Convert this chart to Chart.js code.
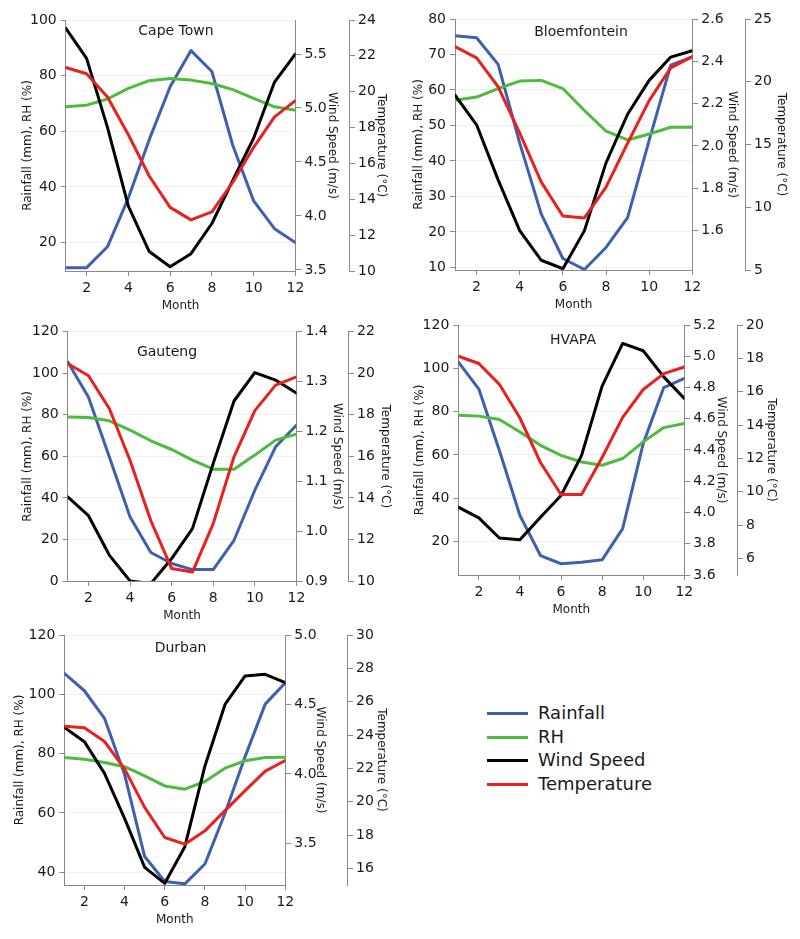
<!DOCTYPE html>
<html>
<head>
<meta charset="utf-8">
<script src="https://cdn.jsdelivr.net/npm/chart.js@4/dist/chart.umd.min.js"></script>
<style>
  html, body { margin: 0; padding: 0; background: #fff; }
  body { width: 800px; height: 939px; position: relative; overflow: hidden; font-family: "DejaVu Sans", sans-serif; }
  canvas { position: absolute; }
  .lg-line { position: absolute; left: 487px; width: 41px; height: 3px; }
  .lg-text { position: absolute; left: 538px; font-size: 18px; line-height: 20px; color: #1a1a1a; white-space: nowrap; }
</style>
</head>
<body>
<canvas id="c1"></canvas>
<canvas id="c2"></canvas>
<canvas id="c3"></canvas>
<canvas id="c4"></canvas>
<canvas id="c5"></canvas>

<div class="lg-line" style="top:712px;background:#3f5fb0"></div><div class="lg-text" style="top:703px">Rainfall</div>
<div class="lg-line" style="top:736px;background:#4cbc3c"></div><div class="lg-text" style="top:727px">RH</div>
<div class="lg-line" style="top:759px;background:#000000"></div><div class="lg-text" style="top:750px">Wind Speed</div>
<div class="lg-line" style="top:783px;background:#e8201f"></div><div class="lg-text" style="top:774px">Temperature</div>

<script>
// ---------- data ----------
const months = [1, 2, 3, 4, 5, 6, 7, 8, 9, 10, 11, 12];
const monthTicks = [2, 4, 6, 8, 10, 12];

const capeTownRainfall = [11, 11, 18.5, 36, 57, 76, 89, 81.5, 55, 35, 25, 20];
const capeTownRH       = [68.8, 69.4, 71.6, 75.4, 78.2, 79, 78.4, 77.2, 75, 71.8, 68.8, 67.6];
const capeTownWind     = [5.74, 5.46, 4.82, 4.09, 3.67, 3.53, 3.65, 3.93, 4.33, 4.72, 5.24, 5.5];
const capeTownTemp     = [21.35, 21.0, 19.7, 17.6, 15.3, 13.55, 12.85, 13.3, 14.95, 16.9, 18.6, 19.5];

const bloemRainfall = [75.3, 74.7, 67.2, 45, 25, 12.5, 9.4, 15.6, 24, 45.8, 67, 69.3];
const bloemRH       = [57.1, 58, 60.4, 62.5, 62.7, 60.4, 54.2, 48.4, 45.9, 47.6, 49.5, 49.5];
const bloemWind     = [2.24, 2.10, 1.84, 1.60, 1.46, 1.42, 1.60, 1.92, 2.15, 2.31, 2.42, 2.45];
const bloemTemp     = [22.8, 21.9, 19.6, 15.9, 12.0, 9.3, 9.15, 11.6, 15.1, 18.5, 21.1, 22.0];

const gautengRainfall = [105.5, 88.4, 59.8, 30.8, 13.7, 8.4, 5.5, 5.5, 19.6, 43.7, 64.6, 75];
const gautengRH       = [79, 78.7, 77.1, 72.6, 67.5, 63.3, 58.2, 53.8, 53.8, 60.6, 67.8, 70.7];
const gautengWind     = [1.069, 1.031, 0.952, 0.9, 0.895, 0.945, 1.005, 1.136, 1.261, 1.318, 1.303, 1.277];
const gautengTemp     = [20.47, 19.88, 18.3, 15.8, 12.9, 10.6, 10.43, 12.76, 15.98, 18.2, 19.43, 19.83];

const hvapaRainfall = [103, 90.4, 62, 32, 13.5, 9.7, 10.4, 11.5, 25.9, 65.2, 91.1, 95.3];
const hvapaRH       = [78.3, 77.9, 76.3, 70.6, 64.4, 59.8, 56.7, 55.2, 58.3, 66, 72.6, 74.5];
const hvapaWind     = [4.034, 3.966, 3.837, 3.825, 3.97, 4.109, 4.366, 4.809, 5.082, 5.035, 4.868, 4.73];
const hvapaTemp     = [18.13, 17.69, 16.44, 14.42, 11.75, 9.83, 9.83, 12.05, 14.46, 16.13, 17.08, 17.48];

const durbanRainfall = [107.1, 101.2, 91.9, 73, 45.3, 36.9, 36.1, 42.8, 59.9, 79, 96.7, 103.9];
const durbanRH       = [78.7, 78.1, 77, 75.6, 72.5, 69.1, 68, 70.6, 75.1, 77.6, 78.7, 78.8];
const durbanWind     = [4.335, 4.232, 4.004, 3.68, 3.327, 3.212, 3.476, 4.057, 4.5, 4.705, 4.717, 4.657];
const durbanTemp     = [24.52, 24.44, 23.61, 21.97, 19.66, 17.85, 17.45, 18.25, 19.46, 20.66, 21.83, 22.47];

// tick labels
const capeTownLeftTicks = [20, 40, 60, 80, 100];
const capeTownWindTicks = [3.5, 4.0, 4.5, 5.0, 5.5];
const capeTownTempTicks = [10, 12, 14, 16, 18, 20, 22, 24];
const bloemLeftTicks = [10, 20, 30, 40, 50, 60, 70, 80];
const bloemWindTicks = [1.6, 1.8, 2.0, 2.2, 2.4, 2.6];
const bloemTempTicks = [5, 10, 15, 20, 25];
const gautengLeftTicks = [0, 20, 40, 60, 80, 100, 120];
const gautengWindTicks = [0.9, 1.0, 1.1, 1.2, 1.3, 1.4];
const gautengTempTicks = [10, 12, 14, 16, 18, 20, 22];
const hvapaLeftTicks = [20, 40, 60, 80, 100, 120];
const hvapaWindTicks = [3.6, 3.8, 4.0, 4.2, 4.4, 4.6, 4.8, 5.0, 5.2];
const hvapaTempTicks = [6, 8, 10, 12, 14, 16, 18, 20];
const durbanLeftTicks = [40, 60, 80, 100, 120];
const durbanWindTicks = [3.5, 4.0, 4.5, 5.0];
const durbanTempTicks = [16, 18, 20, 22, 24, 26, 28, 30];

const seriesNames = ['Rainfall', 'RH', 'Wind Speed', 'Temperature'];
const seriesColors = ['#3f5fb0', '#4cbc3c', '#000000', '#e8201f'];

// ---------- drawing ----------
const FONT = '"DejaVu Sans", sans-serif';
const AXIS = '#8a8a8a';
const TEXT = '#1a1a1a';

const panelTitle = {
  id: 'panelTitle',
  afterDraw(chart, args, opts) {
    const ctx = chart.ctx;
    ctx.save();
    ctx.font = '14px ' + FONT;
    ctx.fillStyle = TEXT;
    ctx.textAlign = 'center';
    ctx.textBaseline = 'middle';
    ctx.fillText(opts.text, opts.x, opts.y);
    ctx.restore();
  }
};

function pts(arr) { return months.map((m, i) => ({ x: m, y: arr[i] })); }
function setTicks(list) { return s => { s.ticks = list.map(v => ({ value: v })); }; }

function makePanel(p) {
  const TW = 48;           // temperature axis box width
  const XH = 42;           // x axis box height
  const cw = Math.round(p.tempX + TW - p.cl);
  const ch = Math.round(p.B + XH - p.ct);
  const cv = document.getElementById(p.id);
  cv.width = cw; cv.height = ch;
  cv.style.left = p.cl + 'px'; cv.style.top = p.ct + 'px';
  cv.style.width = cw + 'px'; cv.style.height = ch + 'px';

  const tickFont = { family: FONT, size: 14 };
  const titleFont = { family: FONT, size: 12, lineHeight: 1.2 };

  const ds = (label, arr, axis, color, order) => ({
    label, data: pts(arr), yAxisID: axis, borderColor: color, backgroundColor: color,
    borderWidth: 3, pointRadius: 0, tension: 0, order, fill: false,
    borderJoinStyle: 'round', borderCapStyle: 'round'
  });

  new Chart(cv, {
    type: 'line',
    data: {
      datasets: [
        ds(seriesNames[0], p.rain, 'y', seriesColors[0], 4),
        ds(seriesNames[1], p.rh, 'y', seriesColors[1], 3),
        ds(seriesNames[2], p.wind, 'wind', seriesColors[2], 2),
        ds(seriesNames[3], p.temp, 'temp', seriesColors[3], 1)
      ]
    },
    options: {
      responsive: false, animation: false, devicePixelRatio: 1,
      layout: { autoPadding: false, padding: { left: 0, right: 0, bottom: 0, top: p.T - p.ct } },
      plugins: {
        legend: { display: false }, tooltip: { enabled: false },
        panelTitle: { text: p.name, x: p.nameX - p.cl, y: p.nameY - p.ct }
      },
      scales: {
        x: {
          type: 'linear', position: 'bottom', min: 1, max: 12,
          afterBuildTicks: setTicks(monthTicks),
          ticks: { font: tickFont, color: TEXT, padding: 4, autoSkip: false, maxRotation: 0, callback: v => String(v) },
          grid: { drawOnChartArea: false, tickLength: 5, color: AXIS, tickColor: AXIS },
          border: { color: AXIS, width: 1 },
          title: { display: true, text: 'Month', font: titleFont, color: TEXT, padding: { top: 0, bottom: 0 } },
          afterFit: s => { s.height = XH; }
        },
        y: {
          type: 'linear', position: 'left', min: p.leftMin, max: p.leftMax,
          afterBuildTicks: setTicks(p.leftTicks),
          ticks: { font: tickFont, color: TEXT, padding: 4, autoSkip: false, callback: v => String(v) },
          grid: { drawOnChartArea: true, color: '#f0f0f0', tickColor: AXIS, tickLength: 5 },
          border: { color: AXIS, width: 1 },
          title: { display: true, text: 'Rainfall (mm), RH (%)', font: titleFont, color: TEXT,
                   padding: { top: p.leftTitle - p.cl - 7.2, bottom: 0 } },
          afterFit: s => { s.width = p.L - p.cl; }
        },
        wind: {
          type: 'linear', position: 'right', min: p.windMin, max: p.windMax,
          afterBuildTicks: setTicks(p.windTicks),
          ticks: { font: tickFont, color: TEXT, padding: 3, autoSkip: false, callback: v => Number(v).toFixed(1) },
          grid: { drawOnChartArea: false, color: AXIS, tickColor: AXIS, tickLength: 6 },
          border: { color: AXIS, width: 1 },
          title: { display: true, text: 'Wind Speed (m/s)', font: titleFont, color: TEXT,
                   padding: { top: p.tempX - p.windTitle - 7.2, bottom: 0 } },
          afterFit: s => { s.width = p.tempX - p.R; }
        },
        temp: {
          type: 'linear', position: 'right', min: p.tempMin, max: p.tempMax,
          afterBuildTicks: setTicks(p.tempTicks),
          ticks: { font: tickFont, color: TEXT, padding: 3, autoSkip: false, callback: v => String(v) },
          grid: { drawOnChartArea: false, color: AXIS, tickColor: AXIS, tickLength: 6 },
          border: { color: AXIS, width: 1 },
          title: { display: true, text: 'Temperature (°C)', font: titleFont, color: TEXT,
                   padding: { top: TW - 7.2 - (p.tempTitle - p.tempX), bottom: 0 } },
          afterFit: s => { s.width = TW; }
        }
      }
    },
    plugins: [panelTitle]
  });
}

makePanel({
  id: 'c1', name: 'Cape Town', nameX: 176, nameY: 31,
  cl: 0, ct: 0, L: 65.7, R: 295.7, T: 20, B: 270.7, tempX: 349.3,
  leftTitle: 28, windTitle: 332, tempTitle: 381,
  rain: capeTownRainfall, rh: capeTownRH, wind: capeTownWind, temp: capeTownTemp,
  leftMin: 9.8, leftMax: 100, leftTicks: capeTownLeftTicks,
  windMin: 3.49, windMax: 5.815, windTicks: capeTownWindTicks,
  tempMin: 10, tempMax: 24, tempTicks: capeTownTempTicks
});
makePanel({
  id: 'c2', name: 'Bloemfontein', nameX: 581, nameY: 32,
  cl: 400, ct: 0, L: 455, R: 692.3, T: 19, B: 269.5, tempX: 745,
  leftTitle: 419, windTitle: 732, tempTitle: 781,
  rain: bloemRainfall, rh: bloemRH, wind: bloemWind, temp: bloemTemp,
  leftMin: 9.25, leftMax: 80, leftTicks: bloemLeftTicks,
  windMin: 1.414, windMax: 2.6, windTicks: bloemWindTicks,
  tempMin: 5, tempMax: 25, tempTicks: bloemTempTicks
});
makePanel({
  id: 'c3', name: 'Gauteng', nameX: 167, nameY: 352.5,
  cl: 0, ct: 315, L: 67.7, R: 296.7, T: 331.7, B: 580.7, tempX: 348.3,
  leftTitle: 28, windTitle: 337, tempTitle: 385,
  rain: gautengRainfall, rh: gautengRH, wind: gautengWind, temp: gautengTemp,
  leftMin: 0, leftMax: 120, leftTicks: gautengLeftTicks,
  windMin: 0.9, windMax: 1.4, windTicks: gautengWindTicks,
  tempMin: 10, tempMax: 22, tempTicks: gautengTempTicks
});
makePanel({
  id: 'c4', name: 'HVAPA', nameX: 573, nameY: 340,
  cl: 400, ct: 308, L: 458.3, R: 684, T: 325, B: 574.5, tempX: 736.7,
  leftTitle: 420, windTitle: 721, tempTitle: 771,
  rain: hvapaRainfall, rh: hvapaRH, wind: hvapaWind, temp: hvapaTemp,
  leftMin: 4.5, leftMax: 120, leftTicks: hvapaLeftTicks,
  windMin: 3.6, windMax: 5.2, windTicks: hvapaWindTicks,
  tempMin: 5, tempMax: 20, tempTicks: hvapaTempTicks
});
makePanel({
  id: 'c5', name: 'Durban', nameX: 180.5, nameY: 648,
  cl: 0, ct: 618, L: 64.3, R: 285, T: 635, B: 885, tempX: 346.7,
  leftTitle: 20, windTitle: 320, tempTitle: 381,
  rain: durbanRainfall, rh: durbanRH, wind: durbanWind, temp: durbanTemp,
  leftMin: 35.7, leftMax: 120, leftTicks: durbanLeftTicks,
  windMin: 3.2, windMax: 5.0, windTicks: durbanWindTicks,
  tempMin: 15, tempMax: 30, tempTicks: durbanTempTicks
});
</script>
</body>
</html>
